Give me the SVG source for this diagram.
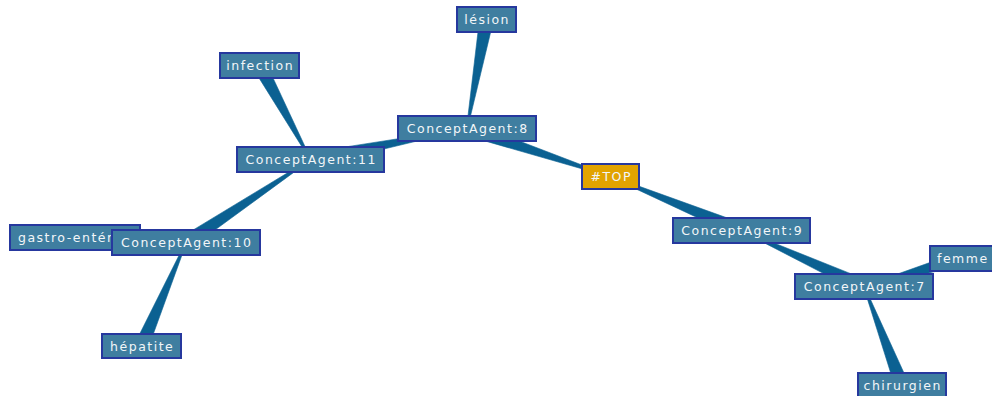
<svg xmlns="http://www.w3.org/2000/svg" width="992" height="396" viewBox="0 0 992 396">
<style>
.edge{fill:#0b6192;stroke:#0b6192;stroke-width:0.6;stroke-linejoin:round}
.box{fill:#3f7ea0;stroke:#26389e;stroke-width:2}
.top{fill:#e2a300;stroke:#26389e;stroke-width:2}
.lbl{font-family:"DejaVu Sans",Verdana,sans-serif;font-size:12.5px;letter-spacing:1.5px;fill:#f2f6f8;text-anchor:middle}
.lbs{text-anchor:start}
</style>
<rect width="992" height="396" fill="#ffffff"/>
<g id="connectors">
<polygon class="edge" points="610.66,176.03 469.22,121.86 464.78,135.14 610.34,176.97"/>
<polygon class="edge" points="610.31,176.96 738.83,236.97 744.17,224.03 610.69,176.04"/>
<polygon class="edge" points="467.49,128.59 493.39,20.73 479.61,18.27 466.51,128.41"/>
<polygon class="edge" points="466.90,128.01 309.14,152.63 311.86,166.37 467.10,128.99"/>
<polygon class="edge" points="310.94,159.26 265.65,62.16 253.35,68.84 310.06,159.74"/>
<polygon class="edge" points="310.22,159.08 182.12,236.68 189.88,248.32 310.78,159.92"/>
<polygon class="edge" points="186.02,242.0 75.32,230.51 74.68,244.49 185.98,243.0"/>
<polygon class="edge" points="185.54,242.30 135.07,343.23 147.93,348.77 186.46,242.70"/>
<polygon class="edge" points="741.29,230.95 861.09,292.87 866.91,280.13 741.71,230.05"/>
<polygon class="edge" points="864.14,286.98 963.92,265.23 960.08,251.77 863.86,286.02"/>
<polygon class="edge" points="863.53,286.68 895.46,388.01 908.54,382.99 864.47,286.32"/>
</g>
<g id="node-lesion"><rect class="box" x="457" y="7" width="59" height="25"/><text class="lbl" x="487.2" y="24">lésion</text></g>
<g id="node-ca8"><rect class="box" x="398" y="116" width="138" height="25"/><text class="lbl" x="467.7" y="133">ConceptAgent:8</text></g>
<g id="node-top"><rect class="top" x="582" y="164" width="57" height="25"/><text class="lbl" x="611.2" y="181">#TOP</text></g>
<g id="node-ca9"><rect class="box" x="673" y="218" width="137" height="25"/><text class="lbl" x="742.2" y="235">ConceptAgent:9</text></g>
<g id="node-femme"><rect class="box" x="930" y="246" width="64" height="25"/><text class="lbl lbs" x="937" y="263">femme</text></g>
<g id="node-ca7"><rect class="box" x="795" y="274" width="138" height="25"/><text class="lbl" x="864.7" y="291">ConceptAgent:7</text></g>
<g id="node-chirurgien"><rect class="box" x="858" y="373" width="88" height="25"/><text class="lbl" x="902.7" y="390">chirurgien</text></g>
<g id="node-infection"><rect class="box" x="220" y="53" width="79" height="25"/><text class="lbl" x="260.2" y="70">infection</text></g>
<g id="node-ca11"><rect class="box" x="237" y="147" width="147" height="25"/><text class="lbl" x="311.2" y="164">ConceptAgent:11</text></g>
<g id="node-gastro"><rect class="box" x="10" y="225" width="130" height="25"/><text class="lbl lbs" x="18" y="242">gastro-entérite</text></g>
<g id="node-ca10"><rect class="box" x="112" y="230" width="148" height="25"/><text class="lbl" x="186.7" y="247">ConceptAgent:10</text></g>
<g id="node-hepatite"><rect class="box" x="102" y="334" width="79" height="24"/><text class="lbl" x="142.2" y="351">hépatite</text></g>
</svg>
